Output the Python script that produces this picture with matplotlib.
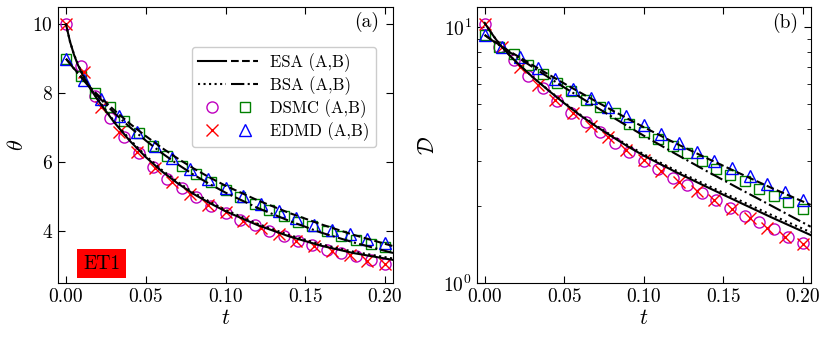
import numpy as np
import matplotlib
matplotlib.use("Agg")
import matplotlib.pyplot as plt
from matplotlib.lines import Line2D
from matplotlib.legend_handler import HandlerTuple

plt.rcParams['font.family'] = ['cmr10', 'DejaVu Serif']
plt.rcParams['mathtext.fontset'] = 'cm'
plt.rcParams['axes.formatter.use_mathtext'] = True
plt.rcParams['axes.unicode_minus'] = False

# ---------------- data ----------------
# theory time grid
t_line = [0, 0.0025, 0.005, 0.0075, 0.01, 0.015, 0.02, 0.03, 0.04, 0.05, 0.06,
          0.07, 0.08, 0.09, 0.10, 0.12, 0.14, 0.16, 0.18, 0.205]
# panel (a): temperature theta
esa_A_theta = [10.0, 9.5, 9.12, 8.82, 8.57, 8.15, 7.8, 7.17, 6.62, 6.15, 5.74,
               5.39, 5.08, 4.82, 4.58, 4.18, 3.85, 3.58, 3.37, 3.17]
bsa_A_theta = [10.0, 9.5, 9.13, 8.84, 8.59, 8.17, 7.82, 7.2, 6.66, 6.19, 5.78,
               5.43, 5.12, 4.86, 4.62, 4.22, 3.89, 3.62, 3.41, 3.21]
esa_B_theta = [9.0, 8.86, 8.72, 8.58, 8.45, 8.18, 7.95, 7.52, 7.12, 6.76, 6.42,
               6.11, 5.82, 5.56, 5.32, 4.9, 4.53, 4.2, 3.9, 3.57]
bsa_B_theta = [9.0, 8.86, 8.71, 8.57, 8.43, 8.16, 7.91, 7.44, 7.02, 6.63, 6.27,
               5.94, 5.64, 5.37, 5.12, 4.68, 4.3, 3.96, 3.68, 3.37]
# panel (b): D
esa_A_D = [10.4, 9.85, 9.35, 8.9, 8.5, 7.85, 7.3, 6.4, 5.67, 5.05, 4.53,
           4.1, 3.74, 3.42, 3.15, 2.72, 2.37, 2.07, 1.81, 1.54]
bsa_A_D = [10.4, 9.85, 9.35, 8.9, 8.5, 7.85, 7.3, 6.41, 5.69, 5.08, 4.56,
           4.13, 3.77, 3.46, 3.19, 2.76, 2.41, 2.11, 1.85, 1.58]
esa_B_D = [9.33, 9.1, 8.88, 8.68, 8.48, 8.1, 7.76, 7.12, 6.55, 6.03, 5.56,
           5.13, 4.74, 4.39, 4.07, 3.52, 3.07, 2.69, 2.36, 2.02]
bsa_B_D = [9.33, 9.09, 8.86, 8.65, 8.44, 8.04, 7.68, 7.0, 6.38, 5.82, 5.33,
           4.88, 4.47, 4.1, 3.77, 3.2, 2.73, 2.34, 2.01, 1.66]

# DSMC time points
t_dsmc = [0.0, 0.0091, 0.0182, 0.0273, 0.0364, 0.0455, 0.0545, 0.0636, 0.0727,
          0.0818, 0.0909, 0.1, 0.1091, 0.1182, 0.1273, 0.1364, 0.1455, 0.1545,
          0.1636, 0.1727, 0.1818, 0.1909, 0.2]
dsmc_A_theta = [10.0, 8.79, 7.93, 7.27, 6.74, 6.27, 5.85, 5.52, 5.25, 4.99, 4.73,
                4.53, 4.34, 4.17, 4.0, 3.86, 3.71, 3.59, 3.47, 3.38, 3.28, 3.18, 3.06]
dsmc_B_theta = [9.0, 8.49, 8.0, 7.59, 7.2, 6.85, 6.48, 6.19, 5.9, 5.66, 5.42,
                5.2, 4.99, 4.79, 4.62, 4.43, 4.28, 4.14, 4.0, 3.86, 3.76, 3.64, 3.54]
dsmc_A_D = [10.3, 8.4, 7.45, 6.46, 5.78, 5.15, 4.64, 4.25, 3.88, 3.54, 3.24,
            3.01, 2.79, 2.57, 2.42, 2.25, 2.12, 1.96, 1.83, 1.73, 1.63, 1.52, 1.43]
dsmc_B_D = [9.33, 8.4, 7.85, 7.13, 6.58, 6.04, 5.61, 5.2, 4.87, 4.61, 4.19,
            3.91, 3.65, 3.42, 3.22, 3.01, 2.8, 2.64, 2.5, 2.34, 2.18, 2.07, 1.95]

# EDMD time points
t_edmd = [0.0, 0.0111, 0.0222, 0.0333, 0.0444, 0.0556, 0.0667, 0.0778, 0.0889,
          0.1, 0.1111, 0.1222, 0.1333, 0.1444, 0.1556, 0.1667, 0.1778, 0.1889, 0.2]
edmd_A_theta = [10.0, 8.62, 7.59, 6.89, 6.31, 5.82, 5.44, 5.08, 4.77, 4.55,
                4.31, 4.09, 3.91, 3.71, 3.57, 3.42, 3.3, 3.15, 3.06]
edmd_B_theta = [9.0, 8.38, 7.84, 7.33, 6.87, 6.48, 6.11, 5.81, 5.52, 5.25,
                5.01, 4.79, 4.58, 4.39, 4.19, 4.05, 3.91, 3.78, 3.66]
edmd_A_D = [10.3, 8.4, 7.02, 5.95, 5.2, 4.61, 4.12, 3.72, 3.32, 3.03,
            2.73, 2.49, 2.28, 2.12, 1.95, 1.8, 1.64, 1.52, 1.42]
edmd_B_D = [9.33, 8.4, 7.64, 6.92, 6.28, 5.73, 5.28, 4.87, 4.48, 4.14,
            3.81, 3.52, 3.26, 3.01, 2.81, 2.61, 2.44, 2.27, 2.12]

legend_labels = ["ESA (A,B)", "BSA (A,B)", "DSMC (A,B)", "EDMD (A,B)"]

# ---------------- figure ----------------
fig = plt.figure(figsize=(8.3, 3.4), dpi=100)
axa = fig.add_axes([0.0699, 0.1676, 0.4036, 0.8118])
axb = fig.add_axes([0.5743, 0.1676, 0.4024, 0.8118])

ms = 8
lw = 1.5


def draw(ax, dA, dB, eA, eB, lA, lB, bA, bB):
    ax.plot(t_dsmc, dA, ls='none', marker='o', ms=ms, mfc='none', mec='m', mew=1.0, zorder=2)
    ax.plot(t_dsmc, dB, ls='none', marker='s', ms=ms - 0.5, mfc='none', mec='g', mew=1.0, zorder=2)
    ax.plot(t_edmd, eA, ls='none', marker='x', ms=ms, mec='r', mew=1.0, zorder=2)
    ax.plot(t_edmd, eB, ls='none', marker='^', ms=ms, mfc='none', mec='b', mew=1.0, zorder=2)
    ax.plot(t_line, lA, color='k', ls='-', lw=lw, zorder=3)
    ax.plot(t_line, bA, color='k', ls=':', lw=lw, zorder=3)
    ax.plot(t_line, lB, color='k', ls='--', lw=lw, zorder=3)
    ax.plot(t_line, bB, color='k', ls='-.', lw=lw, zorder=3)
    ax.set_xlim(-0.005, 0.205)
    ax.set_xticks([0.0, 0.05, 0.10, 0.15, 0.20])
    ax.set_xticklabels(["0.00", "0.05", "0.10", "0.15", "0.20"])
    ax.tick_params(which='both', direction='in', top=True, right=True, labelsize=14)
    ax.tick_params(which='major', length=5)
    ax.tick_params(which='minor', length=3)
    ax.set_xlabel(r"$t$", fontsize=16, labelpad=2)


draw(axa, dsmc_A_theta, dsmc_B_theta, edmd_A_theta, edmd_B_theta,
     esa_A_theta, esa_B_theta, bsa_A_theta, bsa_B_theta)
axa.set_ylim(2.5, 10.5)
axa.set_yticks([4, 6, 8, 10])
axa.set_ylabel(r"$\theta$", fontsize=16, labelpad=4)
axa.text(0.921, 0.947, "(a)", transform=axa.transAxes, ha='center', va='center', fontsize=14)
axa.text(0.13, 0.07, "ET1", transform=axa.transAxes, ha='center', va='center', fontsize=14,
         bbox=dict(boxstyle='square,pad=0.3', facecolor='red', edgecolor='none'))

draw(axb, dsmc_A_D, dsmc_B_D, edmd_A_D, edmd_B_D,
     esa_A_D, esa_B_D, bsa_A_D, bsa_B_D)
axb.set_yscale('log')
axb.set_ylim(1, 12)
axb.set_ylabel(r"$\mathcal{D}$", fontsize=16, labelpad=4)
axb.yaxis.set_minor_formatter(matplotlib.ticker.NullFormatter())
axb.text(0.923, 0.941, "(b)", transform=axb.transAxes, ha='center', va='center', fontsize=14)

# legend
h_esa = (Line2D([], [], color='k', ls='-', lw=lw), Line2D([], [], color='k', ls='--', lw=lw))
h_bsa = (Line2D([], [], color='k', ls=':', lw=lw), Line2D([], [], color='k', ls='-.', lw=lw))
h_dsmc = (Line2D([], [], ls='none', marker='o', ms=ms, mfc='none', mec='m'),
          Line2D([], [], ls='none', marker='s', ms=ms - 0.5, mfc='none', mec='g'))
h_edmd = (Line2D([], [], ls='none', marker='x', ms=ms, mec='r'),
          Line2D([], [], ls='none', marker='^', ms=ms, mfc='none', mec='b'))
axa.legend([h_esa, h_bsa, h_dsmc, h_edmd], legend_labels,
           handler_map={tuple: HandlerTuple(ndivide=None, pad=0.3)},
           loc='upper left', bbox_to_anchor=(0.399, 0.856), borderaxespad=0.0,
           fontsize=12, handlelength=3.6, handletextpad=0.7, labelspacing=0.25,
           borderpad=0.4, framealpha=1.0)

fig.savefig("out.png", dpi=100)
